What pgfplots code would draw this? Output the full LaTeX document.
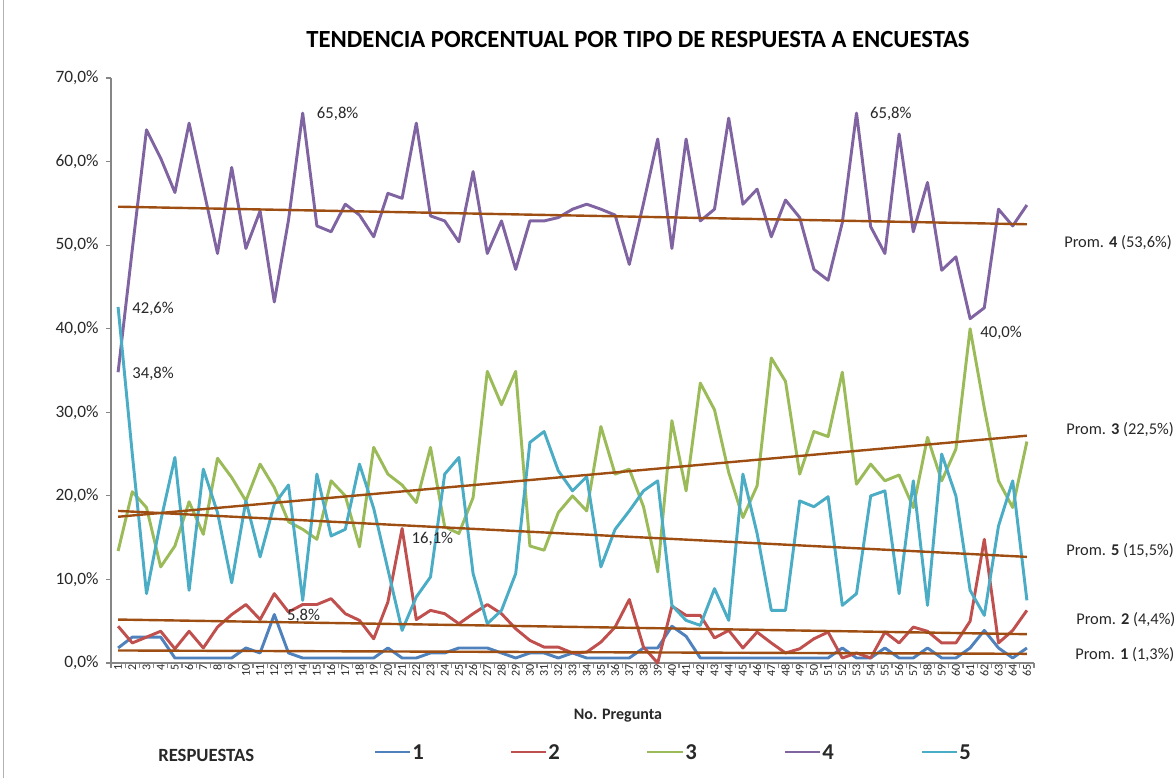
\documentclass[border=0pt]{standalone}
\usepackage{fontspec}
\setmainfont{Carlito}
\usepackage{pgfplots}
\usepackage{pgfplotstable}
\pgfplotsset{compat=1.18}
\definecolor{c1}{RGB}{79,129,189}
\definecolor{c2}{RGB}{192,80,77}
\definecolor{c3}{RGB}{155,187,89}
\definecolor{c4}{RGB}{128,100,162}
\definecolor{c5}{RGB}{75,172,198}
\definecolor{tr}{RGB}{158,78,18}
\definecolor{axg}{RGB}{134,134,134}
\definecolor{txt}{RGB}{40,40,40}

\pgfplotstableread{
x s1 s2 s3 s4 s5
1 1.8 4.4 13.4 34.8 42.6
2 3.1 2.4 20.5 49.5 25.0
3 3.1 3.1 18.6 63.8 8.3
4 3.1 3.8 11.5 60.4 17.0
5 0.6 1.7 14.0 56.3 24.6
6 0.6 3.8 19.3 64.6 8.7
7 0.6 1.8 15.4 56.8 23.2
8 0.6 4.3 24.5 49.0 18.0
9 0.6 5.8 22.2 59.3 9.6
10 1.8 7.0 19.4 49.6 19.4
11 1.2 5.2 23.8 54.1 12.7
12 5.8 8.3 21.0 43.2 19.0
13 1.2 6.1 16.9 53.0 21.3
14 0.6 7.0 16.0 65.8 7.5
15 0.6 7.0 14.8 52.3 22.6
16 0.6 7.7 21.8 51.6 15.2
17 0.6 5.9 20.0 54.9 16.0
18 0.6 5.1 13.9 53.6 23.8
19 0.6 2.9 25.8 51.0 18.5
20 1.8 7.3 22.6 56.2 11.2
21 0.6 16.1 21.3 55.6 3.9
22 0.6 5.2 19.2 64.6 7.9
23 1.2 6.3 25.8 53.5 10.3
24 1.2 5.9 16.3 52.9 22.6
25 1.8 4.7 15.5 50.4 24.6
26 1.8 5.9 19.8 58.8 10.7
27 1.8 7.0 34.9 49.0 4.7
28 1.2 5.9 30.9 52.9 6.3
29 0.6 4.1 34.9 47.1 10.7
30 1.2 2.7 14.0 52.9 26.4
31 1.2 1.9 13.5 52.9 27.7
32 0.6 1.9 18.0 53.3 23.0
33 1.2 1.2 20.0 54.3 20.6
34 0.6 1.3 18.2 54.9 22.3
35 0.6 2.5 28.3 54.3 11.5
36 0.6 4.3 22.6 53.6 16.0
37 0.6 7.6 23.2 47.7 18.2
38 1.8 1.9 18.7 55.0 20.6
39 1.8 0.0 10.9 62.7 21.8
40 4.4 6.8 29.0 49.6 6.9
41 3.2 5.7 20.6 62.7 5.1
42 0.6 5.7 33.5 52.9 4.5
43 0.6 3.0 30.3 54.3 8.9
44 0.6 3.9 22.8 65.2 5.1
45 0.6 1.8 17.4 54.9 22.6
46 0.6 3.7 21.2 56.7 15.5
47 0.6 2.4 36.5 51.0 6.3
48 0.6 1.2 33.7 55.4 6.3
49 0.6 1.7 22.6 53.3 19.4
50 0.6 2.9 27.7 47.1 18.7
51 0.6 3.7 27.1 45.8 19.9
52 1.8 0.6 34.8 52.7 6.9
53 0.6 1.2 21.4 65.8 8.3
54 0.6 0.6 23.8 52.2 20.0
55 1.8 3.7 21.8 49.0 20.6
56 0.6 2.4 22.5 63.3 8.3
57 0.6 4.3 18.6 51.6 21.8
58 1.8 3.8 27.0 57.5 6.9
59 0.6 2.4 21.8 47.0 25.0
60 0.6 2.4 25.6 48.6 20.0
61 1.8 5.0 40.0 41.2 8.7
62 3.9 14.8 30.5 42.5 5.7
63 1.8 2.4 21.8 54.3 16.4
64 0.6 3.9 18.6 52.3 21.8
65 1.8 6.3 26.5 54.8 7.5
}\datatab

\begin{document}
\begin{tikzpicture}
\begin{axis}[
  at={(83.25pt,-497.25pt)}, anchor=south west,
  scale only axis, width=692.25pt, height=438.75pt,
  xmin=0.5, xmax=65.5, ymin=0, ymax=70,
  axis x line*=bottom, axis y line*=left,
  axis line style={draw=axg, line width=0.8pt},
  tick align=outside, major tick length=3.75pt,
  tick style={draw=axg, line width=0.8pt},
  xtick={0.5,1.5,...,65.5}, xticklabels={},
  extra x ticks={1,...,65},
  extra x tick style={major tick length=0pt,
     xticklabel style={rotate=90, anchor=east, inner sep=1pt,
       font=\fontsize{9}{10}\selectfont, text=txt}},
  ytick={0,10,...,70},
  /pgf/number format/assume math mode=true,
  yticklabel={\pgfmathprintnumber[fixed,fixed zerofill,precision=1,use comma]{\tick}\%},
  yticklabel style={font=\fontsize{13}{15}\selectfont, text=txt, xshift=-2pt},
  clip=false,
]
\addplot[c1, line width=2.2pt, line join=round] table[x=x,y=s1]{\datatab};
\addplot[c2, line width=2.2pt, line join=round] table[x=x,y=s2]{\datatab};
\addplot[c3, line width=2.2pt, line join=round] table[x=x,y=s3]{\datatab};
\addplot[c4, line width=2.2pt, line join=round] table[x=x,y=s4]{\datatab};
\addplot[c5, line width=2.2pt, line join=round] table[x=x,y=s5]{\datatab};
\addplot[tr, line width=1.8pt] coordinates {(1,1.5) (65,1.1)};
\addplot[tr, line width=1.8pt] coordinates {(1,5.2) (65,3.45)};
\addplot[tr, line width=1.8pt] coordinates {(1,17.5) (65,27.2)};
\addplot[tr, line width=1.8pt] coordinates {(1,54.6) (65,52.5)};
\addplot[tr, line width=1.8pt] coordinates {(1,18.2) (65,12.7)};
\tikzset{dl/.style={anchor=west, inner sep=0pt, font=\fontsize{12.5}{14}\selectfont, text=txt}}
\node[dl, xshift=10.5pt, yshift=-0.8pt] at (axis cs:14,65.8) {65,8\%};
\node[dl, xshift=10pt, yshift=-0.8pt] at (axis cs:53,65.8) {65,8\%};
\node[dl, xshift=10.5pt, yshift=-1.5pt] at (axis cs:1,42.6) {42,6\%};
\node[dl, xshift=10.5pt, yshift=-1.3pt] at (axis cs:1,34.8) {34,8\%};
\node[dl, xshift=7.5pt, yshift=-2.8pt] at (axis cs:61,40.0) {40,0\%};
\node[dl, xshift=7pt, yshift=-7.9pt] at (axis cs:21,16.1) {16,1\%};
\node[dl, xshift=9.4pt, yshift=-1pt] at (axis cs:12,5.8) {5,8\%};
\end{axis}
\begin{scope}[x=0.75pt,y=-0.75pt]
\draw[black!30, line width=0.75pt] (3.5,0) -- (3.5,778);
\node[font=\bfseries\fontsize{18.5}{21}\selectfont, text=black] at (638,40) {TENDENCIA PORCENTUAL POR TIPO DE RESPUESTA A ENCUESTAS};
\node[font=\bfseries\fontsize{12}{14}\selectfont, text=txt] at (618,716) {No. Pregunta};
\tikzset{pl/.style={anchor=west, inner sep=0pt, font=\fontsize{12.3}{14}\selectfont, text=txt}}
\node[pl] at (1064,243) {Prom. \textbf{4} (53,6\%)};
\node[pl] at (1066,430) {Prom. \textbf{3} (22,5\%)};
\node[pl] at (1066,551) {Prom. \textbf{5} (15,5\%)};
\node[pl] at (1076,620) {Prom. \textbf{2} (4,4\%)};
\node[pl] at (1075,655) {Prom. \textbf{1} (1,3\%)};
\node[anchor=west, inner sep=0pt, font=\bfseries\fontsize{14}{16}\selectfont, text=txt] at (158,755) {RESPUESTAS};
\tikzset{ln/.style={anchor=west, inner sep=0pt, font=\bfseries\fontsize{17}{18}\selectfont, text=txt}}
\draw[c1, line width=2.2pt] (375,752) -- (410,752); \node[ln] at (412,752) {1};
\draw[c2, line width=2.2pt] (511,752) -- (546,752); \node[ln] at (548,752) {2};
\draw[c3, line width=2.2pt] (647,752) -- (683,752); \node[ln] at (685,752) {3};
\draw[c4, line width=2.2pt] (785,752) -- (820,752); \node[ln] at (822,752) {4};
\draw[c5, line width=2.2pt] (922,752) -- (957,752); \node[ln] at (959,752) {5};
\end{scope}
\pgfresetboundingbox
\path[use as bounding box] (0pt,0pt) rectangle (882pt,-583.5pt);
\end{tikzpicture}
\end{document}
